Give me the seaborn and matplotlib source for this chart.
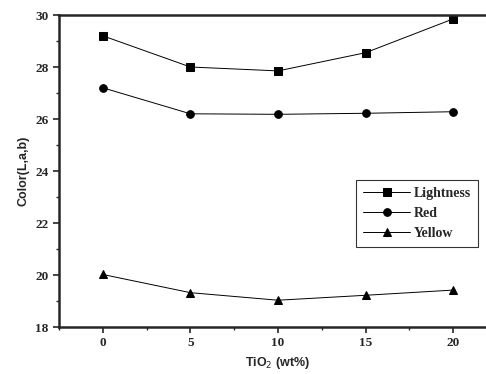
import matplotlib
matplotlib.use('Agg')
import matplotlib.pyplot as plt
import seaborn as sns
import pandas as pd
from matplotlib.ticker import MultipleLocator

# data
tio2 = [0, 5, 10, 15, 20]
lightness = [29.2, 28.0, 27.85, 28.55, 29.85]
red = [27.2, 26.2, 26.18, 26.22, 26.28]
yellow = [20.02, 19.32, 19.03, 19.22, 19.42]

series = ['Lightness', 'Red', 'Yellow']
df = pd.DataFrame({
    'TiO2': tio2 * 3,
    'value': lightness + red + yellow,
    'series': [s for s in series for _ in tio2],
})

sns.set_style('ticks')
plt.rcParams['font.family'] = ['Liberation Serif', 'DejaVu Serif']

fig = plt.figure(figsize=(4.86, 3.74), dpi=100)
ax = fig.add_axes([59 / 486, 1 - 327 / 374, 438 / 486, 312 / 374])

sns.lineplot(data=df, x='TiO2', y='value', hue='series', style='series',
             markers={'Lightness': 's', 'Red': 'o', 'Yellow': '^'},
             dashes=False, palette=['black'] * 3, linewidth=0.7,
             markersize=5.5, markeredgecolor='black', ax=ax)

ax.set_xlim(-2.5, 22.5)
ax.set_ylim(18, 30)
ax.xaxis.set_major_locator(MultipleLocator(5))
ax.xaxis.set_minor_locator(MultipleLocator(2.5))
ax.yaxis.set_major_locator(MultipleLocator(2))
ax.yaxis.set_minor_locator(MultipleLocator(1))
ax.tick_params(which='major', direction='out', length=4, width=1.2,
               labelsize=9.5)
ax.tick_params(which='minor', direction='out', length=2.5, width=1)
for lab in ax.get_xticklabels() + ax.get_yticklabels():
    lab.set_fontweight('bold')
for side in ['left', 'bottom', 'top']:
    ax.spines[side].set_linewidth(1.8)
ax.spines['right'].set_visible(False)

ax.set_xlabel('TiO$_2$ (wt%)', fontsize=9, fontweight='bold',
              family=['Liberation Sans', 'DejaVu Sans'])
ax.set_ylabel('Color(L,a,b)', fontsize=9, fontweight='bold',
              family=['Liberation Sans', 'DejaVu Sans'])

leg = ax.legend(loc='upper left', bbox_to_anchor=(290 / 438, (327 - 173) / 312),
                frameon=True, fancybox=False, edgecolor='black',
                prop={'size': 10, 'weight': 'bold'}, handlelength=3.4,
                handletextpad=0.3, borderpad=0.5, labelspacing=0.5)
leg.get_frame().set_linewidth(0.8)

fig.savefig('out.png', dpi=100)
